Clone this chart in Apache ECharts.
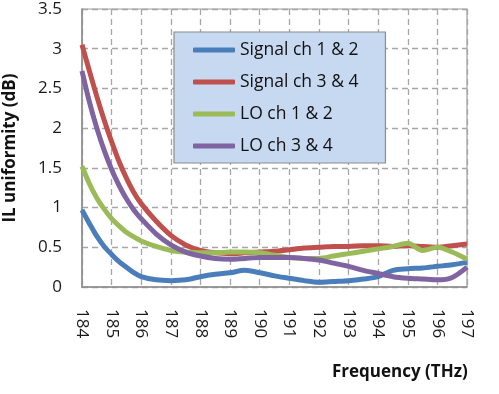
<!DOCTYPE html>
<html>
<head>
<meta charset="utf-8">
<script src="https://cdn.jsdelivr.net/npm/echarts@6/dist/echarts.min.js"></script>
<style>
html,body{margin:0;padding:0;background:#fff;}
#chart{width:499px;height:394px;}
</style>
</head>
<body>
<div id="chart"></div>
<script>
const freq = [184,184.25,184.5,184.75,185,185.25,185.5,185.75,186,186.5,187,187.5,188,188.5,189,189.5,190,190.5,191,191.5,192,192.5,193,193.5,194,194.5,195,195.5,196,196.5,197];
const signal12 = [0.97,0.80,0.64,0.51,0.41,0.32,0.25,0.18,0.13,0.09,0.08,0.09,0.13,0.16,0.18,0.21,0.18,0.14,0.11,0.08,0.06,0.07,0.08,0.10,0.13,0.21,0.23,0.24,0.26,0.28,0.31];
const signal34 = [3.05,2.72,2.40,2.10,1.83,1.58,1.37,1.19,1.05,0.83,0.65,0.53,0.46,0.43,0.42,0.43,0.44,0.45,0.47,0.49,0.50,0.51,0.51,0.52,0.52,0.51,0.52,0.51,0.50,0.52,0.54];
const lo12 = [1.52,1.30,1.12,0.98,0.86,0.77,0.69,0.63,0.58,0.51,0.46,0.44,0.43,0.43,0.44,0.44,0.43,0.40,0.37,0.36,0.36,0.39,0.42,0.45,0.48,0.51,0.55,0.46,0.50,0.44,0.35];
const lo34 = [2.72,2.33,2.00,1.72,1.48,1.28,1.11,0.97,0.86,0.67,0.53,0.44,0.39,0.36,0.35,0.36,0.37,0.37,0.37,0.36,0.34,0.30,0.26,0.21,0.17,0.13,0.11,0.10,0.09,0.12,0.25];
const seriesNames = ['Signal ch 1 & 2','Signal ch 3 & 4','LO ch 1 & 2','LO ch 3 & 4'];
const seriesData = [signal12, signal34, lo12, lo34];
const colors = ['#4a7ebb','#c0504d','#9bbb59','#8064a2'];
const xTitle = 'Frequency (THz)';
const yTitle = 'IL uniformity (dB)';

const chart = echarts.init(document.getElementById('chart'), null, {renderer:'canvas'});
const font = '"Open Sans", "Liberation Sans", sans-serif';
const series = seriesNames.map((n,i)=>({
  name:n, type:'line', showSymbol:false, smooth:0.3,
  data: freq.map((f,j)=>[f, seriesData[i][j]]),
  lineStyle:{color:colors[i], width:5},
  itemStyle:{color:colors[i]},
  z: 3
}));
chart.setOption({
  animation:false,
  color: colors,
  grid:{left:82, right:32, top:9, bottom:107, show:true, borderColor:'#a0a0a0', borderWidth:1.2,
    containLabel:false, outerBoundsMode:'none'},
  xAxis:{type:'value', min:184, max:197, interval:1,
    axisLine:{show:true, lineStyle:{color:'#8c8c8c', width:1.5}},
    axisTick:{show:false},
    axisLabel:{rotate:-90, margin:22, fontSize:17, color:'#1a1a1a', fontFamily:font},
    splitLine:{show:true, lineStyle:{color:'#a6a6a6', type:[6,4], width:1.3}}
  },
  yAxis:{type:'value', min:0, max:3.5, interval:0.5,
    name:yTitle, nameLocation:'middle', nameGap:63, nameRotate:90,
    nameTextStyle:{fontSize:17, fontWeight:'bold', color:'#111', fontFamily:font},
    axisLine:{show:true, lineStyle:{color:'#8c8c8c', width:1.5}},
    axisTick:{show:false},
    axisLabel:{margin:20, fontSize:17, color:'#1a1a1a', fontFamily:font},
    splitLine:{show:true, lineStyle:{color:'#a6a6a6', type:[6,4], width:1.3}}
  },
  legend:{orient:'vertical', left:174, top:32,
    data:seriesNames.map((n,i)=>({name:n, icon:'roundRect', itemStyle:{color:colors[i]}})),
    itemWidth:42, itemHeight:5, itemGap:14,
    padding:[9,27,8,19],
    backgroundColor:'#c6d9f1', borderColor:'#8c8c8c', borderWidth:1.2,
    textStyle:{fontSize:17.5, color:'#111', fontFamily:font}
  },
  graphic:[{type:'text', left:332, top:364,
    style:{text:xTitle, fontSize:17, fontWeight:'bold', fill:'#111', fontFamily:font}}],
  series: series
});
</script>
</body>
</html>
